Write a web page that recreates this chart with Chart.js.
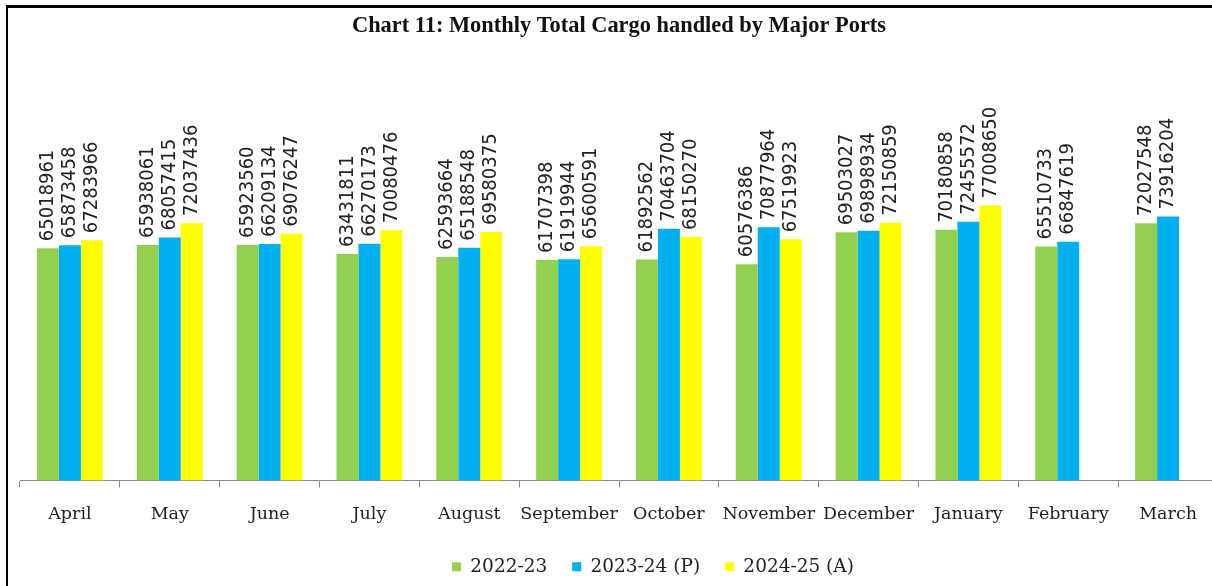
<!DOCTYPE html>
<html>
<head>
<meta charset="utf-8">
<title>Chart 11: Monthly Total Cargo handled by Major Ports</title>
<script src="https://cdn.jsdelivr.net/npm/chart.js@4/dist/chart.umd.min.js"></script>
<style>
  html, body { margin: 0; padding: 0; background: #fff; overflow: hidden; }
  #wrap { position: relative; width: 1212px; height: 586px; overflow: hidden; }
  #c { position: absolute; left: 0; top: 0; }
  #frame {
    position: absolute; left: 6px; top: 5px; width: 1300px; height: 700px;
    border-top: 3px solid #000; border-left: 2px solid #000; pointer-events: none;
  }
</style>
</head>
<body>
<div id="wrap">
  <canvas id="c" width="1220" height="586"></canvas>
  <div id="frame"></div>
</div>
<script>
// months, April to March
const months = ['April', 'May', 'June', 'July', 'August', 'September',
  'October', 'November', 'December', 'January', 'February', 'March'];

const seriesNames = ['2022-23', '2023-24 (P)', '2024-25 (A)'];

const cargo2223 = [65018961, 65938061, 65923560, 63431811, 62593664, 61707398,
  61892562, 60576386, 69503027, 70180858, 65510733, 72027548];
const cargo2324 = [65873458, 68057415, 66209134, 66270173, 65188548, 61919944,
  70463704, 70877964, 69898934, 72455572, 66847619, 73916204];
// Feb and March not yet in for 2024-25
const cargo2425 = [67283966, 72037436, 69076247, 70080476, 69580375, 65600591,
  68150270, 67519923, 72150859, 77008650, null, null];

const barColors = ['#92D050', '#00B0F0', '#FFFF00'];

// vertical value labels sitting on top of each bar
const barLabels = {
  id: 'barLabels',
  afterDatasetsDraw(chart) {
    const ctx = chart.ctx;
    ctx.save();
    ctx.font = '20px "DejaVu Sans Condensed", "DejaVu Sans", sans-serif';
    ctx.fillStyle = '#222';
    ctx.textAlign = 'left';
    ctx.textBaseline = 'middle';
    chart.data.datasets.forEach((ds, i) => {
      const meta = chart.getDatasetMeta(i);
      meta.data.forEach((bar, j) => {
        const v = ds.data[j];
        if (v == null) return;
        ctx.save();
        ctx.translate(bar.x, bar.y - 7);
        ctx.rotate(-Math.PI / 2);
        ctx.fillText(String(v), 0, 0);
        ctx.restore();
      });
    });
    ctx.restore();
  }
};

// legend sits a bit right of centre in the original
const legendShift = {
  id: 'legendShift',
  afterLayout(chart) {
    const lg = chart.legend;
    if (!lg) return;
    lg.left += 34;
    lg.right += 34;
  }
};

new Chart(document.getElementById('c'), {
  type: 'bar',
  data: {
    labels: months,
    datasets: [
      { label: seriesNames[0], data: cargo2223, backgroundColor: barColors[0] },
      { label: seriesNames[1], data: cargo2324, backgroundColor: barColors[1] },
      { label: seriesNames[2], data: cargo2425, backgroundColor: barColors[2] }
    ]
  },
  options: {
    responsive: false,
    animation: false,
    devicePixelRatio: 1,
    layout: { padding: { left: 20, right: 2, top: 0, bottom: 0 } },
    datasets: { bar: { barPercentage: 1, categoryPercentage: 0.66, borderWidth: 0 } },
    plugins: {
      title: {
        display: true,
        text: 'Chart 11: Monthly Total Cargo handled by Major Ports',
        font: { family: '"Liberation Serif", "Times New Roman", serif', size: 22.4, weight: 'bold' },
        color: '#111',
        padding: { top: 13, bottom: 12 }
      },
      legend: {
        position: 'bottom',
        labels: {
          boxWidth: 9,
          boxHeight: 9,
          padding: 25,
          color: '#222',
          font: { family: '"DejaVu Serif", serif', size: 18.5 }
        }
      },
      tooltip: { enabled: false }
    },
    scales: {
      x: {
        grid: { display: true, drawOnChartArea: false, drawTicks: true, tickLength: 7, color: '#888', offset: true },
        border: { display: true, color: '#888', width: 1 },
        ticks: {
          color: '#222',
          padding: 16,
          maxRotation: 0,
          autoSkip: false,
          font: { family: '"DejaVu Serif", serif', size: 17.5 }
        },
        // pull the axis a little closer to the legend
        afterFit(scale) { scale.height -= 8; }
      },
      y: { display: false, min: 0, max: 120000000 }
    }
  },
  plugins: [barLabels, legendShift]
});
</script>
</body>
</html>
